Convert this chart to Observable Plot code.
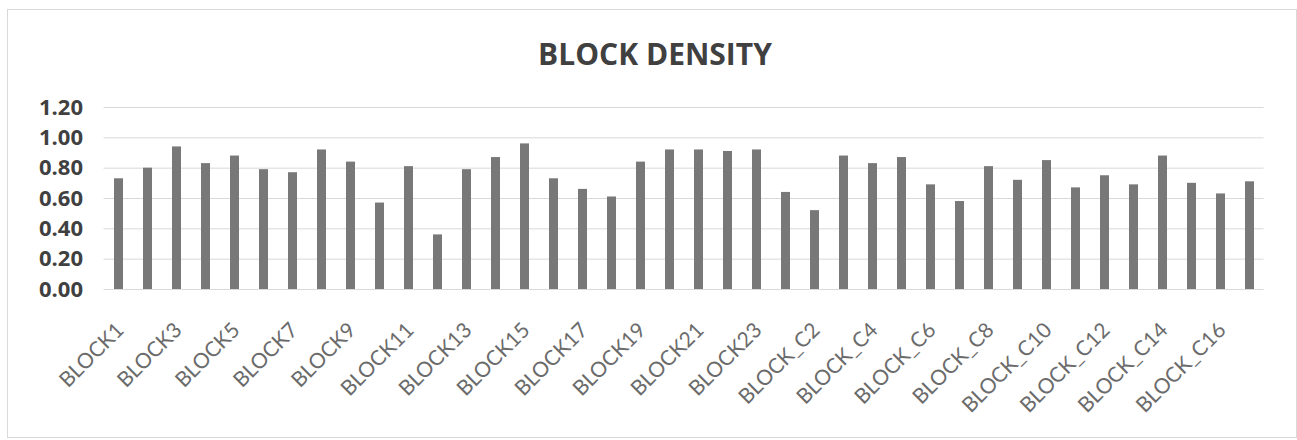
<!DOCTYPE html>
<html>
<head>
<meta charset="utf-8">
<script src="https://cdn.jsdelivr.net/npm/d3@7"></script>
<script src="https://cdn.jsdelivr.net/npm/@observablehq/plot@0.6"></script>
<style>
  body { margin: 0; background: #fff; }
  #wrap { position: relative; width: 1297px; height: 440px; overflow: hidden; font-family: "Open Sans", sans-serif; }
  #frame { position: absolute; left: 7px; top: 9px; width: 1290px; height: 429px; border: 1px solid #d9d9d9; box-sizing: border-box; }
  #title { position: absolute; left: 655px; top: 39px; transform: translateX(-50%); font-weight: 700; font-size: 30px; line-height: 1; color: #404040; white-space: nowrap; }
  #chart { position: absolute; left: 0; top: 90px; }
</style>
</head>
<body>
<div id="wrap">
  <div id="frame"></div>
  <div id="title">BLOCK DENSITY</div>
  <div id="chart"></div>
</div>
<script>
const categories = [
  "BLOCK1","BLOCK2","BLOCK3","BLOCK4","BLOCK5","BLOCK6","BLOCK7","BLOCK8","BLOCK9","BLOCK10",
  "BLOCK11","BLOCK12","BLOCK13","BLOCK14","BLOCK15","BLOCK16","BLOCK17","BLOCK18","BLOCK19","BLOCK20",
  "BLOCK21","BLOCK22","BLOCK23",
  "BLOCK_C1","BLOCK_C2","BLOCK_C3","BLOCK_C4","BLOCK_C5","BLOCK_C6","BLOCK_C7","BLOCK_C8","BLOCK_C9",
  "BLOCK_C10","BLOCK_C11","BLOCK_C12","BLOCK_C13","BLOCK_C14","BLOCK_C15","BLOCK_C16","BLOCK_C17"
];
const densities = [
  0.73, 0.80, 0.94, 0.83, 0.88, 0.79, 0.77, 0.92, 0.84, 0.57,
  0.81, 0.36, 0.79, 0.87, 0.96, 0.73, 0.66, 0.61, 0.84, 0.92,
  0.92, 0.91, 0.92,
  0.64, 0.52, 0.88, 0.83, 0.87, 0.69, 0.58, 0.81, 0.72,
  0.85, 0.67, 0.75, 0.69, 0.88, 0.70, 0.63, 0.71
];
const xTickLabels = [
  "BLOCK1","BLOCK3","BLOCK5","BLOCK7","BLOCK9","BLOCK11","BLOCK13","BLOCK15","BLOCK17","BLOCK19",
  "BLOCK21","BLOCK23","BLOCK_C2","BLOCK_C4","BLOCK_C6","BLOCK_C8","BLOCK_C10","BLOCK_C12","BLOCK_C14","BLOCK_C16"
];
const yTicks = [0, 0.2, 0.4, 0.6, 0.8, 1.0, 1.2];

const data = categories.map((c, i) => ({block: c, density: densities[i]}));

const chart = Plot.plot({
  width: 1297,
  height: 350,
  marginLeft: 103.5,
  marginRight: 33.5,
  marginTop: 17,
  marginBottom: 151,
  style: {fontFamily: '"Open Sans", sans-serif', background: "transparent", overflow: "visible"},
  x: {domain: categories, paddingInner: 0.69, paddingOuter: 0.345, axis: null},
  y: {domain: [0, 1.2], axis: null},
  marks: [
    Plot.ruleY(yTicks, {stroke: "#d9d9d9", strokeWidth: 1}),
    Plot.barY(data, {x: "block", y: "density", fill: "#787878"}),
    Plot.axisY({
      ticks: yTicks, tickSize: 0, tickPadding: 21,
      tickFormat: d3.format(".2f"), fontSize: 22, fontWeight: "bold",
      color: "#404040", label: null
    }),
    Plot.text(xTickLabels, {
      x: d => d, y: () => 0, text: d => d,
      rotate: -45, textAnchor: "end", lineAnchor: "bottom",
      dx: 6, dy: 42, fontSize: 21, fontFamily: "Lato", fill: "#6b6b6b"
    })
  ]
});
document.getElementById("chart").appendChild(chart);
</script>
</body>
</html>
